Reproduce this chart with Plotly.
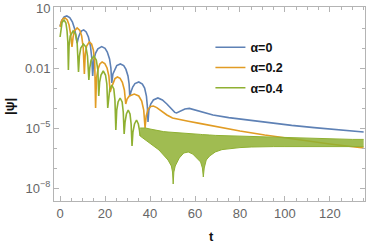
import numpy as np
import plotly.graph_objects as go

# ---- data (log10 |psi|) ----
t_a0 = [0, 0.8, 1.8, 3.0, 4.3, 5.5, 6.5, 7.1, 7.6,
        8.1, 8.8, 9.6, 10.5, 11.6, 12.6, 13.5, 14.1, 14.5,
        15.0, 15.8, 16.8, 18.5, 20.0, 21.0, 22.0, 22.6, 23.0,
        23.5, 24.3, 25.2, 26.8, 28.3, 29.3, 30.2, 30.7, 31.0,
        31.5, 32.3, 33.3, 35.0, 36.6, 37.6, 38.4, 38.8, 39.1,
        39.5, 40.3, 41.5, 43.5, 45.5, 47.5, 49.5, 51.0, 51.8,
        53.5, 55.5, 57.5, 60, 63, 68, 75, 83, 93, 103, 113, 124, 135]
lg_a0 = [0.1, 0.38, 0.55, 0.6, 0.52, 0.3, -0.05, -0.35, -0.75,
         -0.5, -0.28, -0.14, -0.1, -0.2, -0.45, -0.9, -1.5, -2.4,
         -1.6, -1.25, -1.04, -0.93, -1.02, -1.2, -1.55, -2.0, -2.75,
         -2.3, -2.05, -1.88, -1.8, -1.88, -2.07, -2.4, -2.8, -3.4,
         -3.2, -2.95, -2.78, -2.7, -2.8, -3.0, -3.4, -3.9, -4.7,
         -4.1, -3.8, -3.6, -3.5, -3.6, -3.8, -4.05, -4.22, -4.25,
         -4.15, -4.05, -4.02, -4.1, -4.2, -4.35, -4.48, -4.6, -4.75, -4.87, -4.98, -5.09, -5.2]

t_a02 = [0, 0.6, 1.3, 2.2, 3.2, 4.0, 4.7, 5.3,
         5.8, 6.4, 7.6, 8.8, 9.6, 10.3, 10.8,
         11.2, 11.8, 13.0, 14.0, 14.8, 15.4, 15.8,
         16.2, 16.9, 17.7, 18.7, 19.9, 20.9, 21.7, 22.3,
         22.8, 23.5, 24.4, 25.5, 26.7, 27.7, 28.6, 29.2,
         29.8, 30.8, 33.0, 35.0, 36.3, 37.2, 37.8,
         38.3, 39.2, 40.3, 41.5, 43, 45, 47.5, 50, 53, 57, 62, 70, 80, 91, 100, 110, 120, 135]
lg_a02 = [0.05, 0.35, 0.47, 0.5, 0.4, 0.15, -0.3, -0.95,
          -0.45, -0.15, 0.0, -0.12, -0.4, -1.0, -2.3,
          -1.3, -0.9, -0.7, -0.8, -1.1, -1.7, -4.0,
          -2.5, -2.05, -1.8, -1.7, -1.78, -2.0, -2.4, -3.2,
          -3.0, -2.75, -2.53, -2.45, -2.52, -2.72, -3.1, -3.8,
          -3.55, -3.4, -3.3, -3.4, -3.65, -4.1, -5.0,
          -4.4, -4.05, -3.92, -3.9, -3.98, -4.15, -4.35, -4.5, -4.58, -4.66, -4.77, -4.95, -5.15, -5.35, -5.5, -5.65, -5.8, -6.0]

t_a04 = [0, 0.4, 0.9, 1.8, 2.6, 3.1, 3.45, 3.7,
         4.0, 4.5, 5.8, 6.9, 7.6, 8.2,
         8.6, 9.2, 10.4, 11.5, 12.2, 12.8,
         13.2, 13.8, 15.0, 16.1, 16.8, 17.2,
         17.6, 18.2, 19.2, 20.2, 20.8, 21.2,
         21.6, 22.1, 23.0, 23.9, 24.4, 24.8,
         25.2, 25.8, 26.7, 27.6, 28.1, 28.5,
         28.9, 29.5, 30.3, 31.1, 31.6, 32.0,
         32.4, 33.1, 34.0, 34.8, 35.3, 35.6]
lg_a04 = [-0.45, 0.0, 0.28, 0.4, 0.25, -0.15, -0.7, -2.1,
          -0.9, -0.4, -0.15, -0.3, -0.75, -2.2,
          -1.4, -1.0, -0.8, -0.95, -1.4, -2.6,
          -2.0, -1.6, -1.4, -1.6, -2.1, -3.4,
          -2.7, -2.35, -2.15, -2.35, -2.8, -4.0,
          -3.4, -3.05, -2.85, -3.05, -3.6, -5.1,
          -4.1, -3.7, -3.5, -3.7, -4.2, -5.3,
          -4.7, -4.3, -4.1, -4.3, -4.8, -5.9,
          -5.2, -4.8, -4.6, -4.8, -5.1, -5.4]

# fast-oscillation band of alpha=0.4: upper and lower envelopes
t_band = [35.6, 38, 40, 42, 44, 46, 48, 49.5, 50.0, 50.3, 50.6, 51.2, 53, 55, 57, 59, 61,
          62.5, 63.3, 63.7, 64.1, 65, 66.5, 69, 72, 76, 80, 85, 90, 95, 100, 105, 110,
          115, 120, 125, 130, 135]
lg_band_hi = [-5.0, -5.0, -5.05, -5.1, -5.15, -5.18, -5.2, -5.21, -5.22, -5.22, -5.22, -5.22, -5.22,
              -5.24, -5.27, -5.29, -5.31, -5.32, -5.33, -5.33, -5.33, -5.34, -5.35, -5.37, -5.38,
              -5.4, -5.42, -5.44, -5.45, -5.47, -5.49, -5.51, -5.52, -5.54, -5.55, -5.56, -5.57, -5.57]
lg_band_lo = [-5.4, -5.6, -5.75, -5.9, -6.1, -6.35, -6.6, -6.9, -7.2, -7.8, -7.2, -6.9, -6.5,
              -6.25, -6.2, -6.3, -6.5, -6.7, -7.0, -7.45, -7.0, -6.6, -6.4, -6.2, -6.08,
              -6.02, -5.98, -5.95, -5.93, -5.93, -5.93, -5.93, -5.93, -5.93, -5.93, -5.93, -5.93, -5.93]

names = ["α=0", "α=0.2", "α=0.4"]
colors = ["#5E81B5", "#E19C24", "#8FB032"]

x_ticks = [0, 20, 40, 60, 80, 100, 120]
y_ticks = [10, 0.01, 1e-5, 1e-8]
y_ticktext = ["10", "0.01", "10<sup>−5</sup>", "10<sup>−8</sup>"]
y_minor = [1, 0.1, 1e-3, 1e-4, 1e-6, 1e-7]


def v(lg):
    return 10.0 ** np.array(lg)


fig = go.Figure()
fig.add_trace(go.Scatter(x=t_a0, y=v(lg_a0), mode="lines", name=names[0],
                         line=dict(color=colors[0], width=1.6), legendgroup="a"))
fig.add_trace(go.Scatter(x=t_a02, y=v(lg_a02), mode="lines", name=names[1],
                         line=dict(color=colors[1], width=1.6), legendgroup="b"))
fig.add_trace(go.Scatter(x=t_band, y=v(lg_band_hi), mode="lines", showlegend=False,
                         line=dict(color=colors[2], width=1), legendgroup="c"))
fig.add_trace(go.Scatter(x=t_band, y=v(lg_band_lo), mode="lines", showlegend=False,
                         line=dict(color=colors[2], width=1), fill="tonexty",
                         fillcolor="rgba(143,176,50,0.85)", legendgroup="c"))
fig.add_trace(go.Scatter(x=t_a04, y=v(lg_a04), mode="lines", name=names[2],
                         line=dict(color=colors[2], width=1.6), legendgroup="c"))

axcol = "#b4b4b4"
fig.update_layout(
    width=374, height=244,
    margin=dict(l=54, r=9, t=7, b=43),
    paper_bgcolor="white", plot_bgcolor="white",
    font=dict(family="Liberation Sans, Arial, sans-serif", size=13, color="#666666"),
    showlegend=True,
    legend=dict(x=0.503, y=0.868, xanchor="left", yanchor="top",
                bgcolor="rgba(0,0,0,0)", tracegroupgap=1, traceorder="grouped",
                font=dict(size=12.5, color="#111111", family="Liberation Sans, Arial, sans-serif",
                          weight="bold")),
    xaxis=dict(range=[-2.7, 135.6], tickvals=x_ticks, ticks="inside", ticklen=5,
               tickcolor=axcol, showline=True, linecolor=axcol, linewidth=1, mirror="ticks",
               showgrid=False, zeroline=False, automargin=False,
               minor=dict(dtick=5, tick0=0, ticks="inside", ticklen=3, tickcolor=axcol)),
    yaxis=dict(type="log", range=[-8.65, 1.05], tickvals=y_ticks, ticktext=y_ticktext,
               ticks="inside", ticklen=5, tickcolor=axcol, showline=True, linecolor=axcol,
               linewidth=1, mirror="ticks", showgrid=False, zeroline=False, automargin=False,
               minor=dict(tickvals=y_minor, ticks="inside", ticklen=3, tickcolor=axcol)),
    annotations=[
        dict(text="<b>t</b>", xref="paper", yref="paper", x=0.508, y=0, yanchor="middle",
             yshift=-35, showarrow=False, font=dict(size=13, color="#111111")),
        dict(text="<b>|ψ|</b>", xref="paper", yref="paper", x=-0.1415, y=0.49,
             xanchor="center", yanchor="middle", textangle=-90, showarrow=False,
             font=dict(size=13, color="#111111")),
    ],
)

fig.write_html("out.html", config={"displayModeBar": False},
               post_script="document.body.style.margin='0';")
